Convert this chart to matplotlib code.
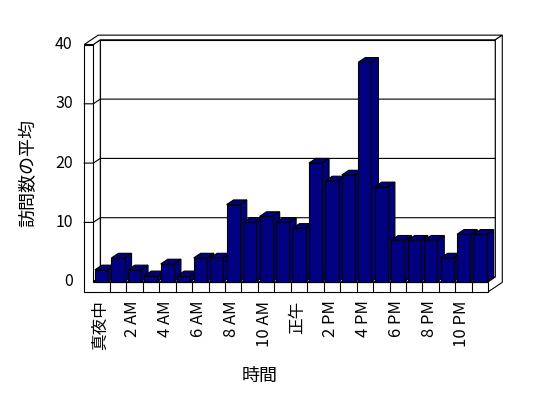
import matplotlib
matplotlib.use("Agg")
import matplotlib.pyplot as plt
from matplotlib.patches import Polygon

plt.rcParams['font.family'] = ['Noto Sans CJK JP', 'DejaVu Sans']

# average visits per hour
hours = list(range(24))
visits = [2, 4, 2, 1, 3, 1, 4, 4, 13, 10, 11, 10, 9, 20, 17, 18, 37, 16, 7, 7, 7, 4, 8, 8]
tick_hours = list(range(0, 24, 2))
tick_labels = ['真夜中', '2 AM', '4 AM', '6 AM', '8 AM', '10 AM',
               '正午', '2 PM', '4 PM', '6 PM', '8 PM', '10 PM']
y_ticks = [0, 10, 20, 30, 40]

navy = '#000080'
lw = 0.8

fig = plt.figure(figsize=(5.48, 3.98), dpi=100)
# axes box = front plane of the pseudo-3D chart
ax = fig.add_axes([93.3 / 548, (398 - 281.7) / 398, 395 / 548, 237.2 / 398])
ax.set_xlim(0, 24)
ax.set_ylim(0, 40)
ax.axis('off')

# depth step (one unit of z) in data units
DX = 0.425
DY = 0.79
WL = 0.55   # left wall thickness
FL = 1.69   # floor thickness
YMAX = 40


def proj(x, y, z):
    return (x + z * DX, y + z * DY)


def face(pts, fc='white', z=1):
    p = Polygon([proj(*q) for q in pts], closed=True, facecolor=fc,
                edgecolor='black', linewidth=lw, clip_on=False, zorder=z,
                joinstyle='miter')
    ax.add_patch(p)


# frame: walls and floor
face([(0, 0, 1), (24, 0, 1), (24, YMAX, 1), (0, YMAX, 1)], z=1)          # back wall
face([(0, 0, 0), (0, YMAX, 0), (0, YMAX, 1), (0, 0, 1)], z=1)            # left wall inner
face([(0, 0, 0), (24, 0, 0), (24, 0, 1), (0, 0, 1)], z=1)                # floor top
face([(-WL, YMAX, 0), (0, YMAX, 0), (0, YMAX, 1), (24, YMAX, 1),
      (24, YMAX, 2), (-WL, YMAX, 2)], z=1)                               # tops
face([(24, -FL, 0), (24, 0, 0), (24, 0, 1), (24, YMAX, 1),
      (24, YMAX, 2), (24, -FL, 2)], z=1)                                 # right side
face([(-WL, -FL, 0), (24, -FL, 0), (24, 0, 0), (0, 0, 0),
      (0, YMAX, 0), (-WL, YMAX, 0)], z=1)                                # front

# gridlines on back wall, left wall
for v in y_ticks[1:-1]:
    xs, ys = zip(proj(-WL, v, 0), proj(0, v, 0), proj(0, v, 1), proj(24, v, 1))
    ax.plot(xs, ys, color='black', lw=lw, clip_on=False, zorder=2)

# floor ticks
for k in range(1, 24):
    ax.plot([k, k], [-FL, 0], color='black', lw=lw, clip_on=False, zorder=2)

# bars
bars = ax.bar([h + 0.1 for h in hours], visits, width=0.8, align='edge',
              color=navy, edgecolor='black', linewidth=lw)
for i, (b, v) in enumerate(zip(bars, visits)):
    x0 = b.get_x()
    x1 = x0 + b.get_width()
    face([(x1, 0, 0), (x1, v, 0), (x1, v, 1), (x1, 0, 1)], fc=navy, z=10 + 2 * i)
    face([(x0, v, 0), (x1, v, 0), (x1, v, 1), (x0, v, 1)], fc=navy, z=10 + 2 * i)
    b.set_zorder(11 + 2 * i)
    b.set_clip_on(False)

# tick labels
for v in y_ticks:
    ax.text(-WL - 0.7, v, str(v), ha='right', va='center', fontsize=11.5)
for h, lab in zip(tick_hours, tick_labels):
    ax.text(h + 0.4, -FL - 1.5, lab, rotation=90, ha='center', va='top',
            fontsize=12, rotation_mode='default')

fig.text(28 / 548, 1 - 173 / 398, '訪問数の平均', rotation=90,
         ha='center', va='center', fontsize=13)
fig.text(260 / 548, 1 - 376 / 398, '時間', ha='center', va='center',
         fontsize=13)

fig.savefig('out.png', dpi=100, facecolor='white')
